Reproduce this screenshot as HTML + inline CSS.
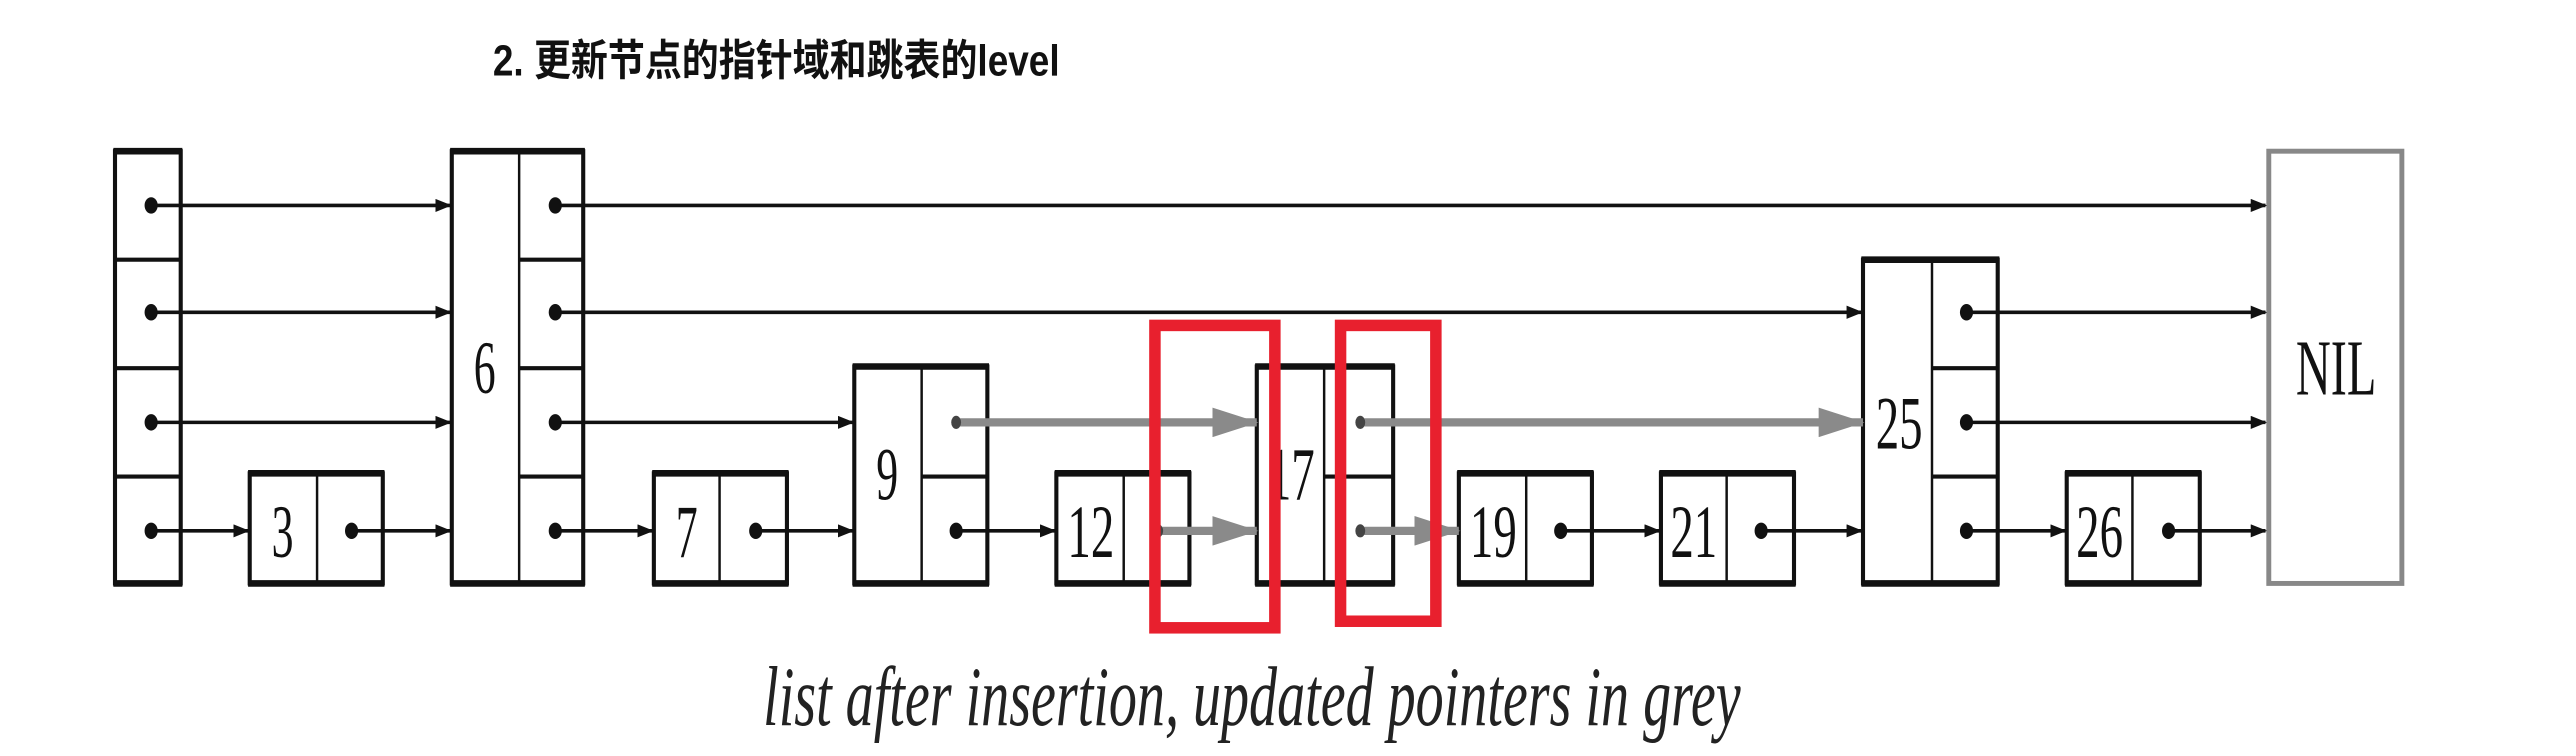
<!DOCTYPE html>
<html><head><meta charset="utf-8"><style>html,body{margin:0;padding:0;background:#fff}svg{display:block}</style></head><body>
<svg width="2576" height="756" viewBox="0 0 1568 460" preserveAspectRatio="none" xmlns="http://www.w3.org/2000/svg">
<defs>
<marker id="a" markerWidth="10" markerHeight="8" refX="9" refY="4" orient="auto" markerUnits="userSpaceOnUse"><path d="M0,0 L10,4 L0,8 z" fill="#111"/></marker>
<marker id="g" markerWidth="28" markerHeight="18" refX="27" refY="9" orient="auto" markerUnits="userSpaceOnUse"><path d="M0,0 L28,9 L0,18 z" fill="#8a8a8a"/></marker>
</defs>
<text transform="translate(300,46) scale(1,1.2)" font-family="Liberation Sans, Noto Sans CJK SC, sans-serif" font-weight="bold" font-size="22" fill="#111" textLength="345" lengthAdjust="spacingAndGlyphs">2. 更新节点的指针域和跳表的level</text>
<g stroke="#111" fill="none" stroke-width="2.5">
<rect x="70" y="92" width="40" height="263"/>
<line x1="70" y1="158" x2="110" y2="158"/><line x1="70" y1="224" x2="110" y2="224"/><line x1="70" y1="290" x2="110" y2="290"/>
<rect x="275" y="92" width="80" height="263"/><line x1="316" y1="92" x2="316" y2="355" stroke-width="1.5"/>
<line x1="316" y1="158" x2="355" y2="158"/><line x1="316" y1="224" x2="355" y2="224"/><line x1="316" y1="290" x2="355" y2="290"/>
<rect x="152" y="288" width="81" height="67"/><line x1="193" y1="288" x2="193" y2="355" stroke-width="1.5"/>
<rect x="398" y="288" width="81" height="67"/><line x1="438" y1="288" x2="438" y2="355" stroke-width="1.5"/>
<rect x="520" y="223" width="81" height="132"/><line x1="561" y1="223" x2="561" y2="355" stroke-width="1.5"/><line x1="561" y1="290" x2="601" y2="290"/>
<rect x="643" y="288" width="81" height="67"/><line x1="684" y1="288" x2="684" y2="355" stroke-width="1.5"/>
<rect x="765" y="223" width="83" height="132"/><line x1="806" y1="223" x2="806" y2="355" stroke-width="1.5"/><line x1="806" y1="290" x2="848" y2="290"/>
<rect x="888" y="288" width="81" height="67"/><line x1="929" y1="288" x2="929" y2="355" stroke-width="1.5"/>
<rect x="1011" y="288" width="81" height="67"/><line x1="1051" y1="288" x2="1051" y2="355" stroke-width="1.5"/>
<rect x="1134" y="158" width="82" height="197"/><line x1="1176" y1="158" x2="1176" y2="355" stroke-width="1.5"/><line x1="1176" y1="224" x2="1216" y2="224"/><line x1="1176" y1="290" x2="1216" y2="290"/>
<rect x="1258" y="288" width="81" height="67"/><line x1="1298" y1="288" x2="1298" y2="355" stroke-width="1.5"/>
</g>
<g stroke="#111" stroke-width="4">
<line x1="69" y1="92" x2="111" y2="92"/><line x1="274" y1="92" x2="356" y2="92"/><line x1="151" y1="288" x2="234" y2="288"/><line x1="397" y1="288" x2="480" y2="288"/><line x1="519" y1="223" x2="602" y2="223"/><line x1="642" y1="288" x2="725" y2="288"/><line x1="764" y1="223" x2="849" y2="223"/><line x1="887" y1="288" x2="970" y2="288"/><line x1="1010" y1="288" x2="1093" y2="288"/><line x1="1133" y1="158" x2="1217" y2="158"/><line x1="1257" y1="288" x2="1340" y2="288"/>
<line x1="69" y1="355" x2="111" y2="355"/><line x1="274" y1="355" x2="356" y2="355"/><line x1="151" y1="355" x2="234" y2="355"/><line x1="397" y1="355" x2="480" y2="355"/><line x1="519" y1="355" x2="602" y2="355"/><line x1="642" y1="355" x2="725" y2="355"/><line x1="764" y1="355" x2="849" y2="355"/><line x1="887" y1="355" x2="970" y2="355"/><line x1="1010" y1="355" x2="1093" y2="355"/><line x1="1133" y1="355" x2="1217" y2="355"/><line x1="1257" y1="355" x2="1340" y2="355"/>
</g>
<rect x="1381" y="92" width="81" height="263" fill="none" stroke="#888" stroke-width="3"/>
<g stroke="#111" stroke-width="2.2" marker-end="url(#a)">
<line x1="92" y1="125" x2="274" y2="125"/><line x1="338" y1="125" x2="1379" y2="125"/>
<line x1="92" y1="190" x2="274" y2="190"/><line x1="338" y1="190" x2="1133" y2="190"/><line x1="1197" y1="190" x2="1379" y2="190"/>
<line x1="92" y1="257" x2="274" y2="257"/><line x1="338" y1="257" x2="519" y2="257"/><line x1="1197" y1="257" x2="1379" y2="257"/>
<line x1="92" y1="323" x2="151" y2="323"/><line x1="214" y1="323" x2="274" y2="323"/><line x1="338" y1="323" x2="397" y2="323"/><line x1="460" y1="323" x2="519" y2="323"/><line x1="582" y1="323" x2="642" y2="323"/><line x1="950" y1="323" x2="1010" y2="323"/><line x1="1072" y1="323" x2="1133" y2="323"/><line x1="1197" y1="323" x2="1257" y2="323"/><line x1="1320" y1="323" x2="1379" y2="323"/>
</g>
<g stroke="#8a8a8a" stroke-width="5" marker-end="url(#g)">
<line x1="582" y1="257" x2="765" y2="257"/><line x1="828" y1="257" x2="1134" y2="257"/>
<line x1="705" y1="323" x2="765" y2="323"/><line x1="828" y1="323" x2="888" y2="323"/>
</g>
<g fill="#111">
<ellipse cx="92" cy="125" rx="4" ry="5"/><ellipse cx="92" cy="190" rx="4" ry="5"/><ellipse cx="92" cy="257" rx="4" ry="5"/><ellipse cx="92" cy="323" rx="4" ry="5"/>
<ellipse cx="338" cy="125" rx="4" ry="5"/><ellipse cx="338" cy="190" rx="4" ry="5"/><ellipse cx="338" cy="257" rx="4" ry="5"/><ellipse cx="338" cy="323" rx="4" ry="5"/>
<ellipse cx="214" cy="323" rx="4" ry="5"/><ellipse cx="460" cy="323" rx="4" ry="5"/><ellipse cx="582" cy="323" rx="4" ry="5"/><ellipse cx="582" cy="257" rx="3" ry="4" fill="#444"/>
<ellipse cx="705" cy="323" rx="3" ry="4" fill="#444"/><ellipse cx="828" cy="257" rx="3" ry="4" fill="#444"/><ellipse cx="828" cy="323" rx="3" ry="4" fill="#444"/>
<ellipse cx="950" cy="323" rx="4" ry="5"/><ellipse cx="1072" cy="323" rx="4" ry="5"/><ellipse cx="1197" cy="190" rx="4" ry="5"/><ellipse cx="1197" cy="257" rx="4" ry="5"/><ellipse cx="1197" cy="323" rx="4" ry="5"/><ellipse cx="1320" cy="323" rx="4" ry="5"/>
</g>
<g font-family="Liberation Serif, serif" font-size="46" fill="#111" text-anchor="middle">
<text transform="translate(172,339) scale(0.58,1)">3</text>
<text transform="translate(295,239) scale(0.58,1)">6</text>
<text transform="translate(418,339) scale(0.58,1)">7</text>
<text transform="translate(540,304) scale(0.58,1)">9</text>
<text transform="translate(664,339) scale(0.62,1)">12</text>
<text transform="translate(786,304) scale(0.62,1)">17</text>
<text transform="translate(909,339) scale(0.62,1)">19</text>
<text transform="translate(1031,339) scale(0.62,1)">21</text>
<text transform="translate(1156,273) scale(0.62,1)">25</text>
<text transform="translate(1278,339) scale(0.62,1)">26</text>
<text transform="translate(1422,240) scale(0.64,1.05)">NIL</text>
</g>
<g fill="none" stroke="#e8202e" stroke-width="7">
<rect x="703" y="198" width="73" height="184"/><rect x="816" y="198" width="58" height="180"/>
</g>
<text transform="translate(762,441) scale(1,1.35)" font-family="Liberation Serif, serif" font-style="italic" font-size="38" fill="#222" text-anchor="middle" textLength="595" lengthAdjust="spacingAndGlyphs">list after insertion, updated pointers in grey</text>
</svg>
</body></html>
